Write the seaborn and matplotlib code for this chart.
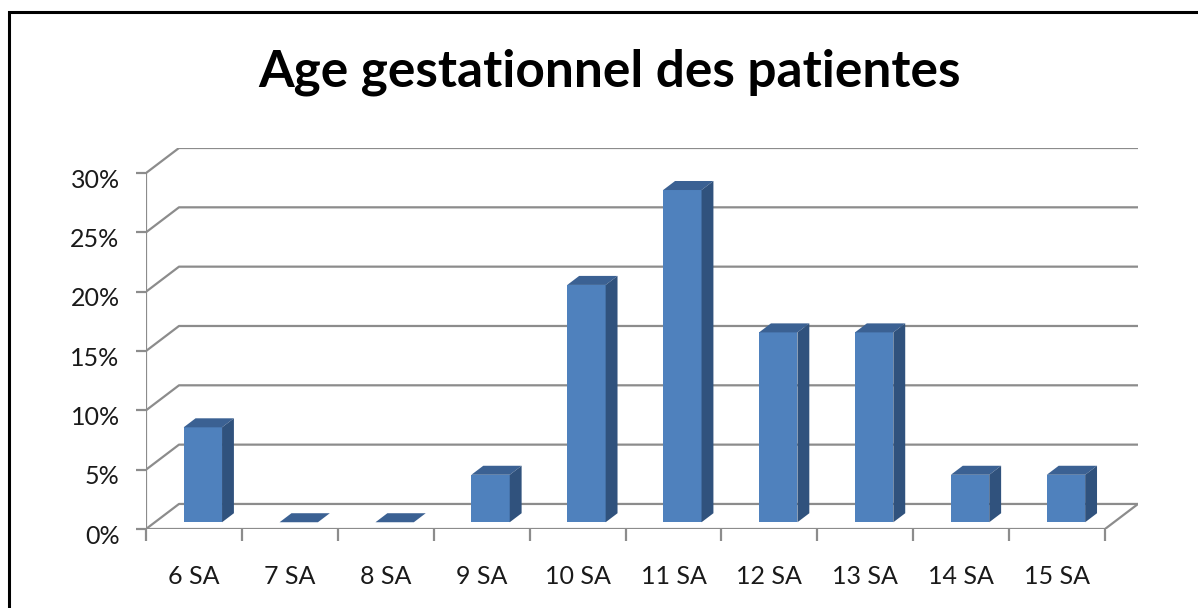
import matplotlib
matplotlib.use("Agg")
import matplotlib.pyplot as plt
import matplotlib.transforms as mtransforms
import seaborn as sns
import pandas as pd
from matplotlib.patches import Polygon, Rectangle

# --- Data ---
CATEGORIES = ["6 SA", "7 SA", "8 SA", "9 SA", "10 SA", "11 SA", "12 SA", "13 SA", "14 SA", "15 SA"]
PERCENTS = [8, 0, 0, 4, 20, 28, 16, 16, 4, 4]
Y_TICKS = [0, 5, 10, 15, 20, 25, 30]
TITLE = "Age gestationnel des patientes"

# --- Style ---
FRONT = "#4F81BD"
TOP = "#3B6193"
SIDE = "#30527D"
GRID = "#8C8C8C"
DX, DY = 0.344, 2.11     # depth of the 3D box in data units
BAR_D0, BAR_D = 0.27, 0.36  # bar front position and depth (fraction of box depth)

sns.set_theme(style="white")
plt.rcParams['font.family'] = ['Lato', 'DejaVu Sans']

df = pd.DataFrame({"cat": CATEGORIES, "pct": PERCENTS})

fig = plt.figure(figsize=(11.98, 6.08), dpi=100)
ax = fig.add_axes([146 / 1198, 1 - 529 / 608, 992 / 1198, 381 / 608])

sns.barplot(data=df, x="cat", y="pct", color=FRONT, saturation=1, width=0.4,
            ax=ax, zorder=3, linewidth=0)

n = len(CATEGORIES)
x_left, x_right = -0.5, n - 0.5

# back wall gridlines and left wall diagonals
for v in Y_TICKS:
    ax.plot([x_left, x_left + DX, x_right + DX], [v, v + DY, v + DY],
            color=GRID, lw=1.6, zorder=1, solid_capstyle="butt")
# floor front and right edge
ax.plot([x_left, x_right, x_right + DX], [0, 0, DY], color=GRID, lw=1.6, zorder=1)
# front vertical axis
ax.plot([x_left, x_left], [0, Y_TICKS[-1]], color=GRID, lw=1.6, zorder=2)

# 3D faces for each bar
for p in ax.patches[:n]:
    p.set_x(p.get_x() + BAR_D0 * DX)
    p.set_y(BAR_D0 * DY)
    x0, w = p.get_x(), p.get_width()
    y0, h = p.get_y(), p.get_height()
    x1, y1 = x0 + w, y0 + h
    bx, by = BAR_D * DX, BAR_D * DY
    top = Polygon([(x0, y1), (x1, y1), (x1 + bx, y1 + by), (x0 + bx, y1 + by)],
                  closed=True, facecolor=TOP, edgecolor="none", zorder=3)
    ax.add_patch(top)
    if h > 0:
        side = Polygon([(x1, y0), (x1 + bx, y0 + by), (x1 + bx, y1 + by), (x1, y1)],
                       closed=True, facecolor=SIDE, edgecolor="none", zorder=3)
        ax.add_patch(side)

ax.set_xlim(x_left, x_right + DX)
ax.set_ylim(0, Y_TICKS[-1] + DY)
for s in ax.spines.values():
    s.set_visible(False)

# ticks: x ticks at category boundaries, labels at centres
ax.set_xticks([i - 0.5 for i in range(n + 1)])
ax.set_xticklabels([])
ax.set_xticks(range(n), minor=True)
ax.set_xticklabels(CATEGORIES, minor=True, fontsize=18, color="#1a1a1a")
ax.tick_params(axis="x", which="major", length=8.6, width=1.6, color=GRID, direction="out", bottom=True)
ax.tick_params(axis="x", which="minor", length=0, pad=26)
ax.set_yticks(Y_TICKS)
ax.set_yticklabels([f"{v}%" for v in Y_TICKS], fontsize=18, color="#1a1a1a")
ax.tick_params(axis="y", length=7, width=1.6, color=GRID, direction="out", left=True, pad=12)
# y labels sit slightly below their ticks in the reference
shift = mtransforms.ScaledTranslation(0, -5 / 100, fig.dpi_scale_trans)
for lab in ax.get_yticklabels():
    lab.set_transform(lab.get_transform() + shift)
ax.set_xlabel("")
ax.set_ylabel("")
ax.grid(False)

fig.text(0.509, 1 - 72 / 608, TITLE, ha="center", va="center",
         fontsize=37, fontweight="bold", color="black")

# outer chart border (clipped at the right and bottom edges)
fig.patches.append(Rectangle((9 / 1198, -0.1), 1.2, 1 - 12 / 608 + 0.1,
                             transform=fig.transFigure, fill=False,
                             edgecolor="black", lw=2.2, zorder=10))

fig.savefig("out.png", dpi=100, facecolor="white")
